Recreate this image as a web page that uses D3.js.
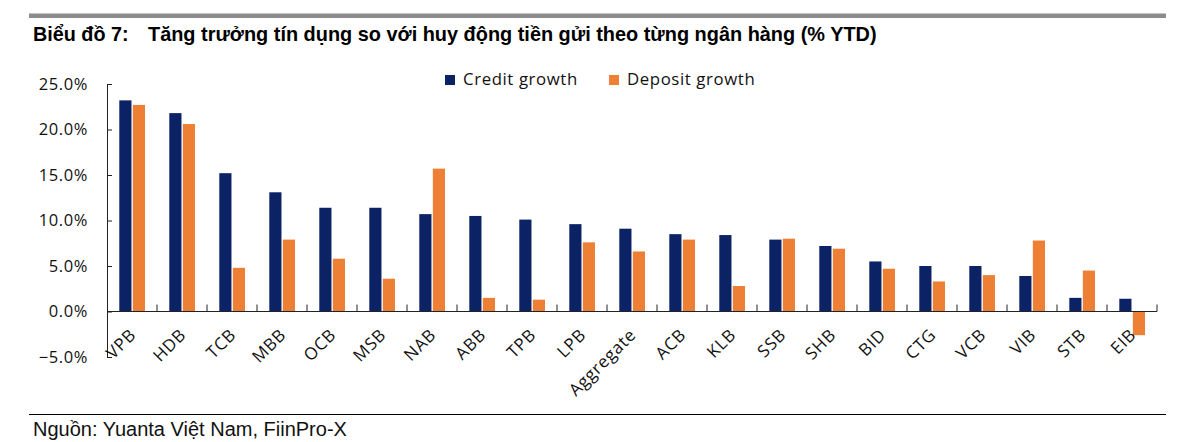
<!DOCTYPE html>
<html>
<head>
<meta charset="utf-8">
<script src="https://cdn.jsdelivr.net/npm/d3@7"></script>
<style>
  body { margin: 0; background: #fff; }
  svg { display: block; }
</style>
</head>
<body>
<div id="chart"></div>
<script>
// data (% YTD)
const banks = ["VPB", "HDB", "TCB", "MBB", "OCB", "MSB", "NAB", "ABB", "TPB", "LPB", "Aggregate",
    "ACB", "KLB", "SSB", "SHB", "BID", "CTG", "VCB", "VIB", "STB", "EIB"];
const creditGrowth = [23.2, 21.8, 15.2, 13.1, 11.4, 11.4, 10.7, 10.5, 10.1, 9.6, 9.1,
    8.5, 8.4, 7.9, 7.2, 5.5, 5.0, 5.0, 3.9, 1.5, 1.4];
const depositGrowth = [22.7, 20.6, 4.8, 7.9, 5.8, 3.6, 15.7, 1.5, 1.3, 7.6, 6.6,
    7.9, 2.8, 8.0, 6.9, 4.7, 3.3, 4.0, 7.8, 4.5, -2.6];
const seriesNames = ["Credit growth", "Deposit growth"];
const yTicks = [-5, 0, 5, 10, 15, 20, 25];

const colors = ["#0b2265", "#ee8035"];
const w = 1200, h = 442;

const svg = d3.select("#chart")
    .append("svg")
    .attr("width", w)
    .attr("height", h)
    .style("background", "#fff");

//header rule + title
svg.append("rect")
    .attr("x", 29).attr("y", 13.5)
    .attr("width", 1137).attr("height", 4.5)
    .attr("fill", "#8c8c8c");
svg.append("text")
    .text("Biểu đồ 7:")
    .attr("x", 33).attr("y", 41)
    .attr("font-family", "Liberation Sans, Arial, sans-serif")
    .attr("font-size", "19.8px")
    .attr("font-weight", "bold")
    .attr("fill", "#000");
svg.append("text")
    .text("Tăng trưởng tín dụng so với huy động tiền gửi theo từng ngân hàng (% YTD)")
    .attr("x", 148).attr("y", 41)
    .attr("font-family", "Liberation Sans, Arial, sans-serif")
    .attr("font-size", "19.9px")
    .attr("font-weight", "bold")
    .attr("fill", "#000");

//scales
const xScale = d3.scaleBand().domain(banks).range([107, 1157]);
const xInner = d3.scaleBand().domain(seriesNames).range([12.3, 38]).paddingInner(0.1);
const yScale = d3.scaleLinear().domain([-5, 25]).range([357, 84]);

//bars
const rows = banks.map((b, i) => ({ bank: b, values: [creditGrowth[i], depositGrowth[i]] }));
const groups = svg.append("g").selectAll("g")
    .data(rows)
    .join("g")
    .attr("transform", d => `translate(${xScale(d.bank)},0)`);
groups.selectAll("rect")
    .data(d => d.values.map((v, k) => ({ key: seriesNames[k], v: v, k: k })))
    .join("rect")
    .attr("x", d => xInner(d.key))
    .attr("width", xInner.bandwidth())
    .attr("y", d => yScale(Math.max(0, d.v)))
    .attr("height", d => Math.abs(yScale(d.v) - yScale(0)))
    .attr("fill", d => colors[d.k]);

//y axis
const fmt = d3.format(".1f");
const yaxis = d3.axisLeft(yScale)
    .tickValues(yTicks)
    .tickSize(-5)
    .tickPadding(19)
    .tickFormat(d => fmt(d) + "%");
const ygrp = svg.append("g")
    .attr("transform", "translate(107,0)")
    .call(yaxis);
ygrp.select(".domain").attr("stroke", "#222");
ygrp.selectAll(".tick line").attr("stroke", "#222");
ygrp.selectAll("text")
    .attr("font-size", "16.5px")
    .attr("font-family", "Open Sans, sans-serif")
    .attr("letter-spacing", "0.6px")
    .attr("fill", "#111");

//x axis line and boundary ticks
const x0 = yScale(0);
const xgrp = svg.append("g");
xgrp.append("line")
    .attr("x1", xScale.range()[0]).attr("x2", xScale.range()[1])
    .attr("y1", x0).attr("y2", x0)
    .attr("stroke", "#222");
const bounds = banks.map(b => xScale(b) + xScale.bandwidth());
xgrp.selectAll(".bt")
    .data(bounds)
    .join("line")
    .attr("class", "bt")
    .attr("x1", d => d).attr("x2", d => d)
    .attr("y1", x0).attr("y2", x0 - 7)
    .attr("stroke", "#222");

//x labels
xgrp.selectAll(".xl")
    .data(banks)
    .join("text")
    .attr("class", "xl")
    .text(d => d)
    .attr("text-anchor", "end")
    .attr("transform", d => `translate(${xScale(d) + xScale.bandwidth() / 2 + 5},336) rotate(-45)`)
    .attr("font-size", "17px")
    .attr("font-family", "Open Sans, sans-serif")
    .attr("letter-spacing", "0.7px")
    .attr("fill", "#111");

//legend
const legendX = [445, 609];
const legendTextX = [18, 18];
const legend = svg.append("g").selectAll("g")
    .data(seriesNames)
    .join("g")
    .attr("transform", (d, i) => `translate(${legendX[i]},75)`);
legend.append("rect")
    .attr("width", 10).attr("height", 10)
    .attr("fill", (d, i) => colors[i]);
legend.append("text")
    .text(d => d)
    .attr("x", (d, i) => legendTextX[i]).attr("y", 10)
    .attr("font-size", "16.8px")
    .attr("font-family", "Open Sans, sans-serif")
    .attr("letter-spacing", "0.6px")
    .attr("fill", "#111");

//source
svg.append("line")
    .attr("x1", 29).attr("x2", 1166)
    .attr("y1", 414.5).attr("y2", 414.5)
    .attr("stroke", "#000");
svg.append("text")
    .text("Nguồn: Yuanta Việt Nam, FiinPro-X")
    .attr("x", 33).attr("y", 436)
    .attr("font-family", "Liberation Sans, Arial, sans-serif")
    .attr("font-size", "20px")
    .attr("fill", "#111");
</script>
</body>
</html>
